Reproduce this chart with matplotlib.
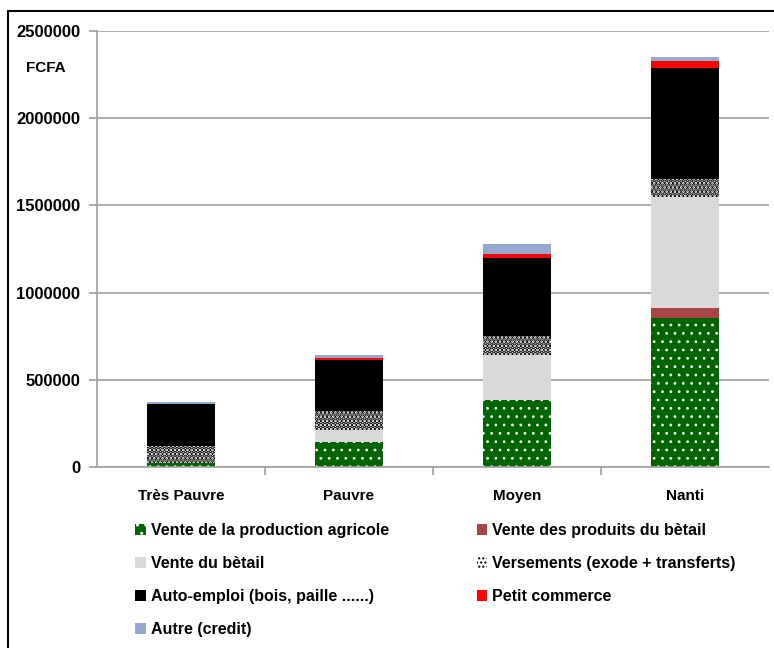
import numpy as np
import matplotlib
matplotlib.use('Agg')
import matplotlib.pyplot as plt
from matplotlib.patches import Rectangle

categories = ['Très Pauvre', 'Pauvre', 'Moyen', 'Nanti']
agricole = [21000, 141000, 386000, 852000]
produits = [0, 0, 0, 57000]
betail = [0, 70000, 256000, 638000]
versements = [97000, 109000, 107000, 105000]
auto_emploi = [241000, 292000, 451000, 638000]
commerce = [0, 11000, 23000, 40000]
autre = [11000, 19000, 57000, 23000]

# name, values, face, hatch colour, hatch, hatch width
series = [
 ('Vente de la production agricole', agricole, '#006400', 'white', '..', 0.8),
 ('Vente des produits du bètail', produits, '#a94545', None, None, 0),
 ('Vente du bètail', betail, '#d9d9d9', None, None, 0),
 ('Versements (exode + transferts)', versements, 'white', 'black', '....', 2.5),
 ('Auto-emploi (bois, paille ......)', auto_emploi, 'black', None, None, 0),
 ('Petit commerce', commerce, '#ff0000', None, None, 0),
 ('Autre (credit)', autre, '#95a9d0', None, None, 0),
]

fig = plt.figure(figsize=(7.74, 6.48), dpi=100)
ax = fig.add_axes([97/774, 1-467/648, 672/774, 436/648])

x = np.arange(len(categories))
bottom = np.zeros(len(categories))
handles = []
for name, vals, fc, hc, hatch, hw in series:
 vals = np.array(vals, dtype=float)
 if hatch:
  with plt.rc_context({'hatch.linewidth': hw}):
   b = ax.bar(x, vals, 0.405, bottom=bottom, color=fc, edgecolor=hc, linewidth=0, hatch=hatch, label=name)
   for p in b.patches:
    if hasattr(p, 'set_hatch_linewidth'):
     p.set_hatch_linewidth(hw)
 else:
  b = ax.bar(x, vals, 0.405, bottom=bottom, color=fc, linewidth=0, label=name)
 handles.append(b)
 bottom += vals

ax.set_xlim(-0.5, 3.5)
ax.set_ylim(0, 2500000)
ax.set_yticks(np.arange(0, 2500001, 500000))
ax.set_yticklabels([str(v) for v in range(0, 2500001, 500000)])
ax.yaxis.grid(True, color='#a0a0a0', linewidth=1.2)
ax.set_axisbelow(True)
for s in ['top', 'right']:
 ax.spines[s].set_visible(False)
for s in ['left', 'bottom']:
 ax.spines[s].set_color('#a0a0a0')
 ax.spines[s].set_linewidth(1.2)
ax.set_xticks(x)
ax.set_xticklabels(categories)
ax.set_xticks(np.arange(0.5, 3, 1), minor=True)
ax.tick_params(axis='x', which='major', length=0, pad=16)
ax.tick_params(axis='x', which='minor', length=6, color='#a0a0a0', width=1.2)
ax.tick_params(axis='y', length=6, color='#a0a0a0', width=1.2, pad=6)
for lab in ax.get_xticklabels():
 lab.set_fontweight('bold')
 lab.set_fontsize(11)
 lab.set_family('Liberation Sans')
for lab in ax.get_yticklabels():
 lab.set_fontweight('bold')
 lab.set_fontsize(12)
 lab.set_family('Liberation Sans')

fig.text(26/774, 1-68/648, 'FCFA', fontsize=11, fontweight='bold', family='Liberation Sans', va='center')

order = [0, 2, 4, 6, 1, 3, 5]
leg = fig.legend([handles[i] for i in order], [series[i][0] for i in order], ncol=2,
 loc='upper left', bbox_to_anchor=(121/774, 1-509/648), frameon=False,
 prop={'family': 'Liberation Sans', 'weight': 'bold', 'size': 11.5},
 handlelength=0.65, handleheight=0.65, handletextpad=0.3, columnspacing=5.5, labelspacing=1.12)

fig.patches.append(Rectangle((8/774, -0.1), 1.2, 1-11/648+0.1, transform=fig.transFigure,
 fill=False, edgecolor='black', linewidth=1.5))

fig.savefig('out.png', dpi=100)
